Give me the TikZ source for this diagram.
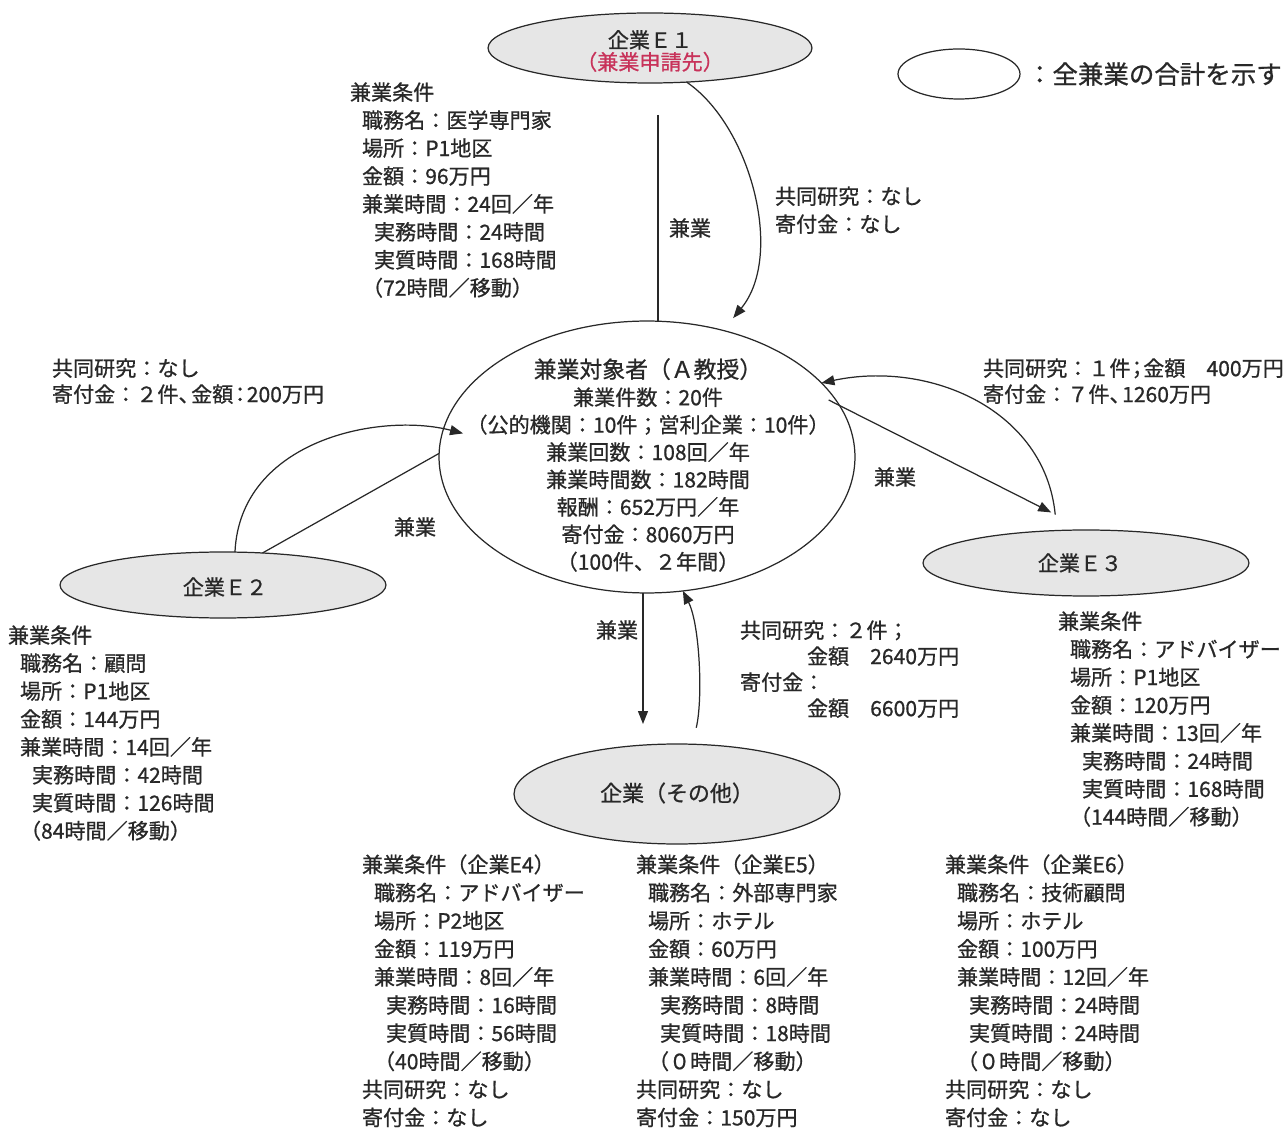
\documentclass[tikz,border=0pt]{standalone}
\usepackage{fontspec}
\setmainfont{Noto Sans CJK JP}[FakeBold=0.8]
\usetikzlibrary{arrows.meta,shapes.geometric}
\definecolor{linec}{RGB}{40,40,40}
\definecolor{fillc}{RGB}{230,230,230}
\definecolor{redc}{RGB}{200,50,90}
\begin{document}
\begin{tikzpicture}[x=0.02cm,y=-0.02cm,
  every node/.style={inner sep=0pt, outer sep=0pt, text=linec},
  ell/.style={draw=linec, line width=0.7pt, ellipse, fill=fillc},
  wellipse/.style={draw=linec, line width=0.7pt, ellipse, fill=white},
  txt/.style={font=\fontsize{12pt}{15.9pt}\selectfont, align=left, anchor=north west},
  lbl/.style={font=\fontsize{12pt}{15.9pt}\selectfont},
  conn/.style={draw=linec, line width=0.7pt},
  arr/.style={conn, -{Triangle[length=0.26cm,width=0.2cm]}},
]
\useasboundingbox (0,0) rectangle (1285,1131);
\fill[white] (0,0) rectangle (1285,1131);

% ellipses
\node[ell, minimum width=6.48cm, minimum height=1.4cm] (e1) at (650,48) {};
\node[lbl, align=center, font=\fontsize{12pt}{12.5pt}\selectfont] (e1t) at (650,51) {企業Ｅ１\\\textcolor{redc}{（兼業申請先）}};
\node[wellipse, minimum width=2.44cm, minimum height=1.0cm] (leg) at (959,74) {};
\node[anchor=west, font=\fontsize{14.5pt}{16pt}\selectfont] (legt) at (1027,74) {：全兼業の合計を示す};
\node[wellipse, minimum width=8.32cm, minimum height=5.44cm] (c) at (647,457) {};
\node[align=center, font=\fontsize{12pt}{15.6pt}\selectfont] (ct) at (648,465) {{\fontsize{13pt}{15.6pt}\selectfont 兼業対象者（Ａ教授）}\\兼業件数：20件\\（公的機関：10件；営利企業：10件）\\兼業回数：108回／年\\兼業時間数：182時間\\報酬：652万円／年\\寄付金：8060万円\\（100件、２年間）};
\node[ell, minimum width=6.52cm, minimum height=1.32cm] (e2) at (223,585) {};
\node[lbl] (e2t) at (225,587) {企業Ｅ２};
\node[ell, minimum width=6.52cm, minimum height=1.32cm] (e3) at (1086,563) {};
\node[lbl] (e3t) at (1080,563) {企業Ｅ３};
\node[ell, minimum width=6.52cm, minimum height=2.0cm] (eo) at (677,794) {};
\node[lbl, font=\fontsize{12.5pt}{15pt}\selectfont] (eot) at (677,793) {企業（その他）};

% text blocks
\node[txt] (b1) at (350,82.4) {兼業条件\\
\hspace*{0.24cm}職務名：医学専門家\\
\hspace*{0.24cm}場所：P1地区\\
\hspace*{0.24cm}金額：96万円\\
\hspace*{0.24cm}兼業時間：24回／年\\
\hspace*{0.48cm}実務時間：24時間\\
\hspace*{0.48cm}実質時間：168時間\\
\hspace*{0.24cm}（72時間／移動）};
\node[txt] (b1r) at (775,186.4) {共同研究：なし\\寄付金：なし};
\node[txt, font=\fontsize{12pt}{14.8pt}\selectfont] (b2r) at (52,358.4) {共同研究：なし\\寄付金：２件、\kern-0.4em 金額\kern-0.18em：\kern-0.18em 200万円};
\node[txt] (b2) at (8,625.4) {兼業条件\\
\hspace*{0.24cm}職務名：顧問\\
\hspace*{0.24cm}場所：P1地区\\
\hspace*{0.24cm}金額：144万円\\
\hspace*{0.24cm}兼業時間：14回／年\\
\hspace*{0.48cm}実務時間：42時間\\
\hspace*{0.48cm}実質時間：126時間\\
\hspace*{0.24cm}（84時間／移動）};
\node[txt, font=\fontsize{12pt}{14.8pt}\selectfont] (b3r) at (983,358.4) {共同研究：１件\kern-0.2em；\kern-0.2em 金額　400万円\\寄付金：７件、\kern-0.4em 1260万円};
\node[txt] (b3) at (1058,611.4) {兼業条件\\
\hspace*{0.24cm}職務名：アドバイザー\\
\hspace*{0.24cm}場所：P1地区\\
\hspace*{0.24cm}金額：120万円\\
\hspace*{0.24cm}兼業時間：13回／年\\
\hspace*{0.48cm}実務時間：24時間\\
\hspace*{0.48cm}実質時間：168時間\\
\hspace*{0.24cm}（144時間／移動）};
\node[txt, font=\fontsize{12pt}{14.8pt}\selectfont] (bor) at (740,620.4) {共同研究：２件；\\
\hspace*{1.34cm}金額　2640万円\\
寄付金：\\
\hspace*{1.34cm}金額　6600万円};
\node[txt, font=\fontsize{12pt}{16pt}\selectfont] (b4) at (362,854.4) {兼業条件（企業E4）\\
\hspace*{0.24cm}職務名：アドバイザー\\
\hspace*{0.24cm}場所：P2地区\\
\hspace*{0.24cm}金額：119万円\\
\hspace*{0.24cm}兼業時間：8回／年\\
\hspace*{0.48cm}実務時間：16時間\\
\hspace*{0.48cm}実質時間：56時間\\
\hspace*{0.24cm}（40時間／移動）\\
共同研究：なし\\
寄付金：なし};
\node[txt, font=\fontsize{12pt}{16pt}\selectfont] (b5) at (636,854.4) {兼業条件（企業E5）\\
\hspace*{0.24cm}職務名：外部専門家\\
\hspace*{0.24cm}場所：ホテル\\
\hspace*{0.24cm}金額：60万円\\
\hspace*{0.24cm}兼業時間：6回／年\\
\hspace*{0.48cm}実務時間：8時間\\
\hspace*{0.48cm}実質時間：18時間\\
\hspace*{0.24cm}（０時間／移動）\\
共同研究：なし\\
寄付金：150万円};
\node[txt, font=\fontsize{12pt}{16pt}\selectfont] (b6) at (945,854.4) {兼業条件（企業E6）\\
\hspace*{0.24cm}職務名：技術顧問\\
\hspace*{0.24cm}場所：ホテル\\
\hspace*{0.24cm}金額：100万円\\
\hspace*{0.24cm}兼業時間：12回／年\\
\hspace*{0.48cm}実務時間：24時間\\
\hspace*{0.48cm}実質時間：24時間\\
\hspace*{0.24cm}（０時間／移動）\\
共同研究：なし\\
寄付金：なし};

% connector labels
\node[lbl] (l1) at (690,228) {兼業};
\node[lbl] (l2) at (415,527) {兼業};
\node[lbl] (l3) at (895,477) {兼業};
\node[lbl] (l4) at (617,630) {兼業};

% connectors
\coordinate (e1s) at (658,115);
\draw[conn] (e1s) -- (e1s |- c.north);
\draw[arr, shorten >=0.32cm] (e1.-43) .. controls (750,125) and (785,255) .. (c.59);
\draw[arr, shorten >=-0.4cm] (e2.70) .. controls (240,440) and (380,412) .. (c.172);
\draw[conn] (e2.39) -- (c.179);
\draw[arr, shorten <=-0.24cm, shorten >=0.78cm] (c.15) -- (e3.north);
\draw[arr, shorten <=0.32cm] (e3.132) .. controls (1045,410) and (930,360) .. (c.23);
\draw[arr, shorten >=0.4cm] ([xshift=-0.08cm]c.south) -- ([xshift=-0.08cm]c.south |- eo.north);
\draw[arr, shorten <=0.34cm] (eo.73) .. controls (703,700) and (700,625) .. (c.-75);
\end{tikzpicture}
\end{document}
